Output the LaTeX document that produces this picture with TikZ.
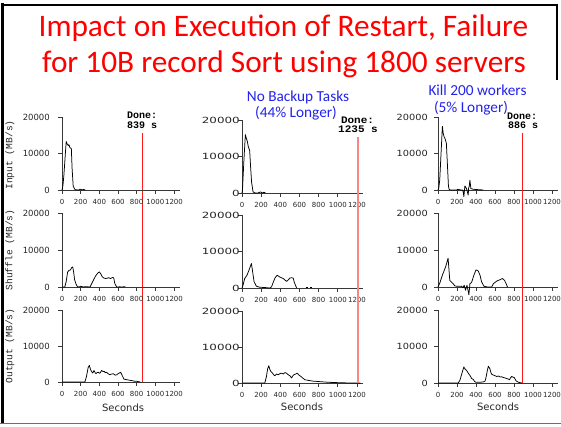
\documentclass[tikz,border=0pt]{standalone}
\usepackage{fontspec}
\setmainfont{Carlito}
\newfontfamily\plotfont{DejaVu Sans}
\newfontfamily\labmono{Liberation Mono}
\definecolor{titlered}{RGB}{255,0,0}
\definecolor{noteblue}{RGB}{35,35,235}
\definecolor{donered}{RGB}{255,25,25}
\definecolor{donepink}{RGB}{245,135,135}
\definecolor{framegray}{RGB}{110,110,110}

\tikzset{
  titletext/.style={text=titlered, font=\fontsize{31.3}{31.3}\selectfont, inner sep=0pt},
  note/.style={text=noteblue, font=\fontsize{15.3}{15.3}\selectfont, inner sep=0pt},
  axisline/.style={draw=black!78, line width=0.9pt},
  curve/.style={draw=black, line width=0.75pt, line join=round},
  ticklab/.style={font=\plotfont\fontsize{7}{7}\selectfont, inner sep=0pt, text=black!85},
  ylab/.style={font=\plotfont\fontsize{8.5}{8.5}\selectfont, inner sep=0pt, text=black!85},
  seclab/.style={font=\plotfont\fontsize{10}{10}\selectfont, inner sep=0pt, text=black!85},
  rowlab/.style={font=\labmono\fontsize{9.6}{9.6}\selectfont, inner sep=0pt, rotate=90, text=black!85},
  donelab/.style={font=\labmono\bfseries\fontsize{10}{10}\selectfont, inner sep=0pt},
  doneline/.style={draw=donered, line width=1pt},
  donelinewide/.style={draw=donepink, line width=2pt},
}

% axes of one panel: #1 name prefix, #2 gap of the value labels, #3 their width factor
\newcommand\plotframe[3]{%
  \draw[axisline] ([xshift=-4pt]0,0) -- (1262,0);
  \draw[axisline] (0,0) -- (0,20);
  \foreach \v/\lab in {0/0,10/10000,20/20000} {
    \draw[axisline] (0,\v) -- ([xshift=-4pt]0,\v);
    \node[ylab, xscale=#3, anchor=east] (#1y\v) at ([xshift=-#2pt]0,\v) {\lab};
  }
  \foreach \t in {0,200,...,1200} {
    \draw[axisline] (\t,0) -- ([yshift=-3.5pt]\t,0);
    \node[ticklab] (#1x\t) at ([yshift=-12pt]\t,0) {\t};
  }
}

\begin{document}
\begin{tikzpicture}[x=1pt, y=-1pt]
\useasboundingbox (0,0) rectangle (561,426);
\fill[white] (0,0) rectangle (561,426);

% slide frame
\draw[black, line width=3pt] (2.5,3) -- (2.5,424);
\draw[black, line width=2pt] (1,4.6) -- (557.5,4.6);
\draw[black, line width=2pt] (556.5,3.6) -- (556.5,80);
\draw[framegray, line width=1.5pt] (0,423.3) -- (561,423.3);

% title
\node[titletext, anchor=base] (title1) at (283.5,36) {Impact on Execution of Restart, Failure};
\node[titletext, anchor=base] (title2) at (284,72.5) {for 10B record Sort using 1800 servers};

% captions of the two altered runs
\node[note, anchor=base] (nobackup) at (298,101) {No Backup Tasks};
\node[note, anchor=base] (nobackuppct) at (296,117) {(44\% Longer)};
\node[note, anchor=base] (kill) at (477.5,95) {Kill 200 workers};
\node[note, anchor=base] (killpct) at (471,112) {(5\% Longer)};

% ---------------- normal run ----------------
\node[rowlab] (lin) at (10,155) {Input (MB/s)};
\node[rowlab] (lsh) at (10,250) {Shuffle (MB/s)};
\node[rowlab] (lout) at (10,346) {Output (MB/s)};

\node[donelab, anchor=base] (donea) at (142,118) {Done:};
\node[donelab, anchor=base] (timea) at (142,128) {839 s};
\coordinate (starta) at (142,133);
\coordinate (enda) at (142,382);
\draw[doneline] (starta) -- (enda);

\begin{scope}
\clip (0,0) rectangle (183,426);
\begin{scope}[shift={(62,190)}, x=0.09333pt, y=3.65pt]
  \plotframe{a1}{12}{1}
  \draw[curve] plot[sharp plot] coordinates {(0,0)(10,1.2)(20,4)(45,13.3)(55,12.6)(68,12.2)(75,12.4)(85,11.6)(100,11.4)(108,6)(120,1)(140,0.1)(175,0)(200,0.2)(215,0)(230,0.15)(250,0)};
\end{scope}
\begin{scope}[shift={(62,287)}, x=0.09333pt, y=3.7pt]
  \plotframe{a2}{12}{1}
  \draw[curve] plot[sharp plot] coordinates {(0,0)(30,0)(45,1.5)(60,4)(75,4.5)(90,4.6)(105,5.3)(115,5.4)(125,4)(135,2)(150,0.8)(165,0.1)(185,0)(200,0.2)(230,0)(250,0.1)(300,0)(330,1.5)(360,3)(385,3.8)(400,4.1)(415,3.6)(430,2.8)(450,2.4)(470,2.3)(500,2.5)(520,2.3)(545,2.6)(555,2.4)(565,1)(585,0)(620,0.05)(640,0)(680,0.1)};
\end{scope}
\begin{scope}[shift={(62,382)}, x=0.09333pt, y=3.6pt]
  \plotframe{a3}{12}{1}
  \draw[curve] plot[sharp plot] coordinates {(0,0)(245,0)(262,1.5)(280,4)(293,4.6)(307,3.4)(320,2.8)(329,2.5)(343,3.2)(355,2.6)(364,2.3)(375,2.6)(389,2.7)(405,2.4)(425,3.2)(440,2.9)(450,3)(465,2.6)(479,2.7)(495,2.3)(514,2)(530,2.2)(550,2.3)(570,1.9)(586,2)(600,2.3)(614,2.5)(629,2.7)(646,1.75)(664,0.8)(693,0.65)(720,0.5)(746,0.4)(780,0.2)(800,0.2)(839,0)};
  \node[seclab] (seca) at ([yshift=-26pt]655,0) {Seconds};
\end{scope}
\end{scope}

% ---------------- no backup tasks ----------------
\begin{scope}[shift={(242,193)}, x=0.09583pt, y=3.65pt]
  \plotframe{b1}{2}{1.4}
  \draw[curve] plot[sharp plot] coordinates {(0,0)(5,1)(20,9)(35,16)(45,15)(55,14.2)(65,12.8)(80,11.6)(90,7)(100,3)(115,0.3)(140,0)(165,0)(195,0.3)(210,0)(230,0.2)(245,0)};
\end{scope}
\begin{scope}[shift={(242,288)}, x=0.09583pt, y=3.65pt]
  \plotframe{b2}{2}{1.4}
  \draw[curve] plot[sharp plot] coordinates {(0,0)(10,0.7)(28,2.6)(52,3.5)(73,4.9)(98,6.7)(108,5)(126,1.7)(150,0.5)(185,0.2)(230,0.15)(290,0)(308,0.3)(325,1.5)(345,2.8)(367,3.5)(395,3)(430,2.6)(465,1.8)(485,2.3)(500,2.75)(520,2.8)(535,2.7)(545,1.6)(570,0)};
  \draw[curve] (665,0.12) -- (685,0.12);
  \draw[curve] (712,0.12) -- (728,0.12);
\end{scope}
\begin{scope}[shift={(242,383)}, x=0.09583pt, y=3.6pt]
  \plotframe{b3}{2}{1.4}
  \draw[curve] plot[sharp plot] coordinates {(0,0)(238,0)(255,1.8)(268,4)(280,4.8)(290,3.8)(301,3.2)(318,2.75)(330,2.3)(343,2)(360,2.5)(378,2.3)(395,2.6)(413,2.75)(430,2.5)(448,2.9)(465,2.7)(483,2.3)(500,2)(517,1.4)(530,2)(542,2.3)(560,2.5)(577,2.75)(590,2.3)(605,2)(620,1.7)(633,1.4)(657,0.9)(680,0.8)(710,0.65)(745,0.5)(780,0.45)(850,0.3)(900,0.2)(955,0.15)(1000,0.1)(1050,0.1)(1100,0)(1235,0)};
  \node[seclab] (secb) at ([yshift=-24pt]626,0) {Seconds};
\end{scope}

\node[donelab, xscale=1.1, anchor=base] (doneb) at (357.5,123) {Done:};
\node[donelab, xscale=1.1, anchor=base] (timeb) at (358,132) {1235 s};
\coordinate (startb) at (358,137);
\coordinate (endb) at (358,383);
\draw[donelinewide] (startb) -- (endb);

% ---------------- 200 workers killed ----------------
\begin{scope}[shift={(438,190)}, x=0.095pt, y=3.65pt]
  \plotframe{c1}{10}{1.15}
  \draw[curve] plot[sharp plot] coordinates {(0,0)(8,0.5)(18,2.7)(32,10)(46,17.4)(55,15.5)(65,14.5)(75,14)(88,12.8)(99,7)(110,1)(117,0.2)(130,0)(194,0)(210,0.2)(240,0)(258,0)(265,-0.5)(272,-1.8)(283,1.1)(300,0.4)(318,-1.4)(322,0.5)(329,1)(336,2.7)(346,0.4)(371,0.2)(420,0.1)(477,0)};
\end{scope}
\begin{scope}[shift={(438,287)}, x=0.095pt, y=3.7pt]
  \plotframe{c2}{10}{1.15}
  \draw[curve] plot[sharp plot] coordinates {(0,0)(18,1)(46,3.2)(81,5.5)(106,7.8)(124,1.8)(159,0.9)(177,0.3)(200,0.2)(247,0.2)(265,-0.2)(275,0.5)(290,-0.9)(305,0.5)(325,-2.1)(336,0.9)(353,1.2)(378,3.2)(399,4.6)(415,4.5)(424,4.3)(442,3.2)(459,1.4)(484,0.2)(520,0)(565,0)(583,0.9)(618,1.6)(654,2)(678,2.3)(700,1.8)(717,0.9)(731,0)};
\end{scope}
\begin{scope}[shift={(438,383)}, x=0.095pt, y=3.65pt]
  \plotframe{c3}{10}{1.15}
  \draw[curve] plot[sharp plot] coordinates {(0,0)(212,0)(230,0.7)(250,2.5)(272,4.4)(285,3.8)(300,3.5)(318,2.7)(336,2.1)(355,1.2)(371,1)(385,0.4)(400,0.2)(440,0.2)(477,0.3)(495,0.5)(505,1.5)(520,3.5)(530,4.6)(545,4)(555,3)(565,2.4)(590,2.1)(618,1.8)(640,1.9)(654,1.65)(670,1.7)(689,1.5)(705,1.4)(724,1.2)(740,1.1)(753,0.9)(765,1.5)(777,1.8)(790,1.6)(802,1.5)(823,0.55)(848,0.2)(883,0)};
  \node[seclab] (secc) at ([yshift=-24pt]632,0) {Seconds};
\end{scope}

\node[donelab, anchor=base] (donec) at (522,119) {Done:};
\node[donelab, anchor=base] (timec) at (523,128) {886 s};
\coordinate (startc) at (522,133);
\coordinate (endc) at (522,383);
\draw[doneline] (startc) -- (endc);
\end{tikzpicture}
\end{document}
